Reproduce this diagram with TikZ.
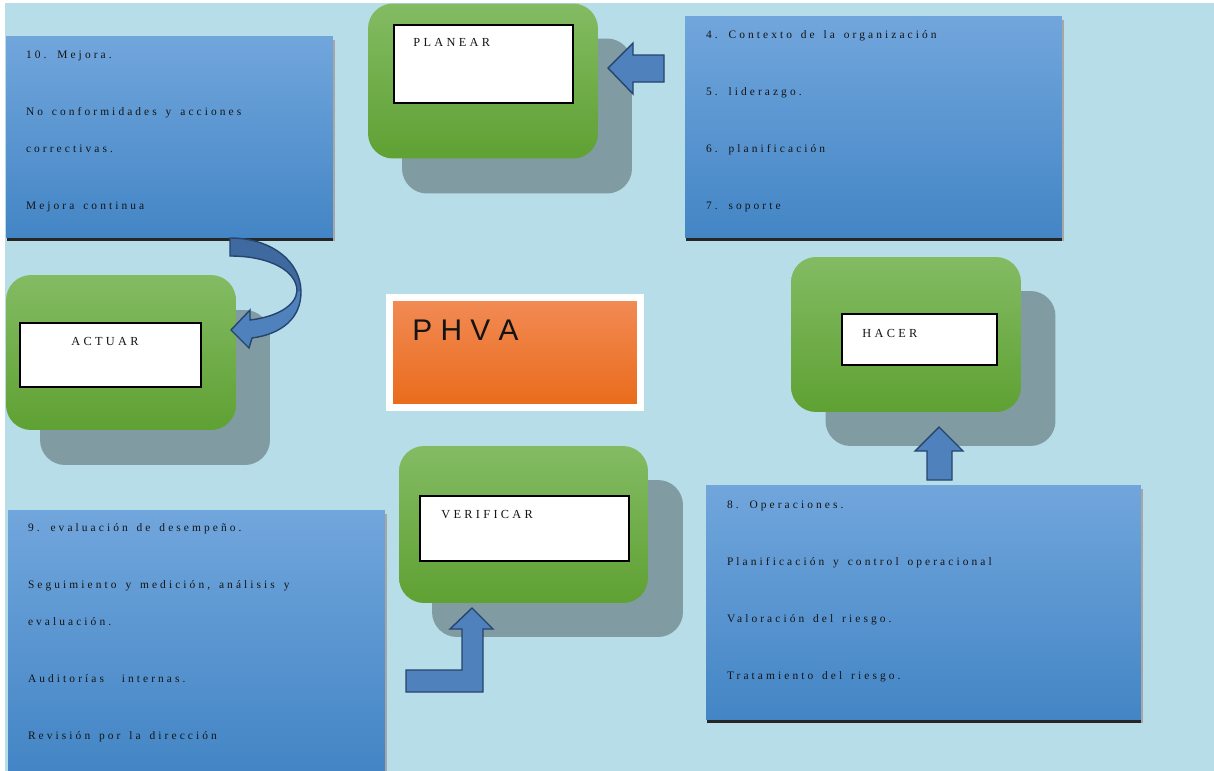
\documentclass[tikz,border=0pt]{standalone}
\usepackage{fontspec}
\setmainfont{Liberation Serif}
\newfontfamily\spacedfont{Liberation Serif}[LetterSpace=27, WordSpace=1.5]
\newfontfamily\phvafont{Liberation Sans}
\usetikzlibrary{positioning, calc}
\definecolor{phvasky}{HTML}{B7DDE8}
\definecolor{phvabluetop}{HTML}{71A6DC}
\definecolor{phvabluemid}{HTML}{5599D8}
\definecolor{phvabluebot}{HTML}{4385C5}
\definecolor{phvagreentop}{HTML}{83BB63}
\definecolor{phvagreenmid}{HTML}{6DB23E}
\definecolor{phvagreenbot}{HTML}{5FA133}
\definecolor{phvashadow}{HTML}{809BA1}
\definecolor{phvaorangetop}{HTML}{F28B56}
\definecolor{phvaorangemid}{HTML}{F47F2B}
\definecolor{phvaorangebot}{HTML}{E96B1A}
\definecolor{phvaarrow}{HTML}{4F81BD}
\definecolor{phvaarrowdark}{HTML}{3F6A9F}
\definecolor{phvaarrowline}{HTML}{26456E}
\definecolor{phvaink}{HTML}{141414}

\begin{document}
\begin{tikzpicture}[x=0.02cm, y=-0.02cm,
  listbox/.style={rectangle, inner sep=0pt, top color=phvabluetop, middle color=phvabluemid, bottom color=phvabluebot},
  listtext/.style={anchor=north west, inner sep=0pt, align=left, text=phvaink, font=\spacedfont\fontsize{6.5pt}{21pt}\selectfont},
  phase/.style={rectangle, rounded corners=0.5cm, inner sep=0pt, minimum width=4.6cm, minimum height=3.1cm, top color=phvagreentop, middle color=phvagreenmid, bottom color=phvagreenbot},
  phaseshadow/.style={rectangle, rounded corners=0.5cm, inner sep=0pt, minimum width=4.6cm, minimum height=3.1cm, fill=phvashadow},
  tagbox/.style={rectangle, inner sep=0pt, fill=white, draw=black, line width=1.1pt},
  tag/.style={anchor=north west, inner sep=0pt, text=phvaink, font=\spacedfont\fontsize{7pt}{8pt}\selectfont},
  blockarrow/.style={fill=phvaarrow, draw=phvaarrowline, line width=0.8pt, line join=miter}
]
\useasboundingbox (0,0) rectangle (1214,771);
\fill[white] (0,0) rectangle (1214,771);
\fill[phvasky] (5,3) rectangle (1214,771);

% green phases with their shadows
\node[phaseshadow] (planearshadow) at (517,116) {};
\node[phase] (planearbox) at (483,81) {};
\node[tagbox, minimum width=3.58cm, minimum height=1.56cm] (planear) at (483.5,64) {};
\node[tag] at ([shift={(20,14)}]planear.north west) {PLANEAR};

\node[phaseshadow] (actuarshadow) at (155,387.5) {};
\node[phase] (actuarbox) at (121,352.5) {};
\node[tagbox, minimum width=3.62cm, minimum height=1.28cm] (actuar) at (110.5,355) {};
\node[tag] at ([shift={(52,15)}]actuar.north west) {ACTUAR};

\node[phaseshadow] (hacershadow) at (940.5,368.5) {};
\node[phase] (hacerbox) at (906,334.5) {};
\node[tagbox, minimum width=3.1cm, minimum height=1.02cm] (hacer) at (919.5,339.5) {};
\node[tag] at ([shift={(21,16)}]hacer.north west) {HACER};

\node[phaseshadow, minimum width=5.02cm, minimum height=3.14cm] (verificarshadow) at (557.5,558.5) {};
\node[phase, minimum width=4.98cm, minimum height=3.14cm] (verificarbox) at (523.5,524.5) {};
\node[tagbox, minimum width=4.18cm, minimum height=1.3cm] (verificar) at (524.5,528.5) {};
\node[tag] at ([shift={(22,15)}]verificar.north west) {VERIFICAR};

% centre
\node[rectangle, inner sep=0pt, minimum width=5.02cm, minimum height=2.2cm, draw=white, line width=0.14cm, top color=phvaorangetop, middle color=phvaorangemid, bottom color=phvaorangebot] (phva) at (515,352.5) {};
\node[anchor=north west, inner sep=0pt, text=phvaink, font=\phvafont\fontsize{17pt}{19pt}\selectfont] at ([shift={(26,26)}]phva.north west) {P H V A};

% clause boxes
\node[listbox, minimum width=6.54cm, minimum height=4.04cm] (mejora) at (169.5,137) {};
\node[listtext] at ([shift={(20,15)}]mejora.north west) {10. Mejora.\\[11.4pt] No conformidades y acciones\\ correctivas.\\[11.4pt] Mejora continua};

\node[listbox, minimum width=7.54cm, minimum height=4.44cm] (contexto) at (873.5,127) {};
\node[listtext] at ([shift={(21,15)}]contexto.north west) {4. Contexto de la organización\\[11.4pt] 5. liderazgo.\\[11.4pt] 6. planificación\\[11.4pt] 7. soporte};

\node[listbox, minimum width=7.54cm, minimum height=5.22cm] (evaluacion) at (196.5,640.5) {};
\node[listtext] at ([shift={(20,14)}]evaluacion.north west) {9. evaluación de desempeño.\\[11.4pt] Seguimiento y medición, análisis y\\ evaluación.\\[11.4pt] Auditorías\ \ internas.\\[11.4pt] Revisión por la dirección};

\node[listbox, minimum width=8.7cm, minimum height=4.7cm] (operaciones) at (923.5,602.5) {};
\node[listtext] at ([shift={(21,16)}]operaciones.north west) {8. Operaciones.\\[11.4pt] Planificación y control operacional\\[11.4pt] Valoración del riesgo.\\[11.4pt] Tratamiento del riesgo.};

\foreach \b in {mejora, contexto, operaciones} {
  \fill[gray!70] ([shift={(0,4)}]\b.north east) rectangle ([shift={(2,3)}]\b.south east);
  \fill[black!85] ([shift={(1,0)}]\b.south west) rectangle ([shift={(0,2.5)}]\b.south east);
}
\fill[gray!70] ([shift={(0,4)}]evaluacion.north east) rectangle ([shift={(2,0)}]evaluacion.south east);

% block arrows
\draw[blockarrow] (608,68) -- (633,43) -- (633,55) -- (664,55) -- (664,82) -- (633,82) -- (633,94) -- cycle;
\draw[blockarrow] (939,427) -- (963,451) -- (952,451) -- (952,480) -- (927,480) -- (927,451) -- (915,451) -- cycle;
\draw[blockarrow] (406,670) -- (462,670) -- (462,629) -- (450,629) -- (472,608) -- (493,629) -- (483,629) -- (483,692) -- (406,692) -- cycle;
\fill[phvaarrow] (230,238) .. controls (272,238) and (301,262) .. (301,292) .. controls (301,318) and (282,334) .. (252,338) -- (249,348) -- (231,330) -- (250,310) -- (250,320) .. controls (276,317) and (296,306) .. (297,291) .. controls (297,271) and (270,256) .. (230,256) -- cycle;
\fill[phvaarrowdark] (230,238) .. controls (272,238) and (301,262) .. (301,292) -- (297,291) .. controls (297,271) and (270,256) .. (230,256) -- cycle;
\draw[blockarrow, fill=none] (230,238) .. controls (272,238) and (301,262) .. (301,292) .. controls (301,318) and (282,334) .. (252,338) -- (249,348) -- (231,330) -- (250,310) -- (250,320) .. controls (276,317) and (296,306) .. (297,291) .. controls (297,271) and (270,256) .. (230,256) -- cycle;
\end{tikzpicture}
\end{document}
